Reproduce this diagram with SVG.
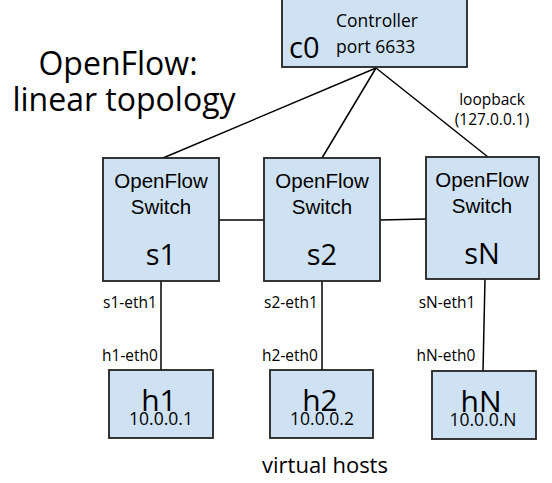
<svg xmlns="http://www.w3.org/2000/svg" width="552" height="483" viewBox="0 0 552 483">
<style>
.box{fill:#cfe2f3;stroke:#222;stroke-width:1.8}
.ln{stroke:#000;stroke-width:1.5;fill:none}
.cal{font-family:"Open Sans","Noto Sans",sans-serif;fill:#000}
.ar{font-family:"Liberation Sans",Arial,sans-serif;fill:#000}
.sm{font-size:15.5px}
.big{font-size:30px}
.ip{font-size:17.5px}
</style>
<rect width="552" height="483" fill="#fff"/>
<g id="title">
<text class="cal" x="118" y="75" font-size="32" text-anchor="middle">OpenFlow:</text>
<text class="cal" x="124" y="111" font-size="32" text-anchor="middle">linear topology</text>
</g>
<g id="connectors">
<line class="ln" x1="376" y1="68" x2="163" y2="158"/>
<line class="ln" x1="376" y1="68" x2="322" y2="158"/>
<line class="ln" x1="376" y1="68" x2="488" y2="157"/>
<line class="ln" x1="219" y1="220" x2="264" y2="220"/>
<line class="ln" x1="380" y1="220" x2="426" y2="219"/>
<line class="ln" x1="161" y1="281" x2="161" y2="370"/>
<line class="ln" x1="322" y1="281" x2="322" y2="370"/>
<line class="ln" x1="485" y1="279" x2="483" y2="371"/>
</g>
<g id="c0">
<rect class="box" x="282" y="-1" width="185" height="68"/>
<text class="cal" x="289" y="58" font-size="29">c0</text>
<text class="cal" x="336" y="27" font-size="17.5">Controller</text>
<text class="cal" x="336" y="53" font-size="17.5">port 6633</text>
</g>
<g id="loopback">
<text class="cal sm" x="492" y="105" text-anchor="middle">loopback</text>
<text class="cal sm" x="492" y="125" text-anchor="middle">(127.0.0.1)</text>
</g>
<g id="s1">
<rect class="box" x="103" y="158" width="116" height="123"/>
<text class="ar" x="161" y="188" font-size="20.5" text-anchor="middle">OpenFlow</text>
<text class="ar" x="161" y="214" font-size="20.5" text-anchor="middle">Switch</text>
<text class="cal" x="161" y="265" font-size="29" text-anchor="middle">s1</text>
</g>
<g id="s2">
<rect class="box" x="264" y="158" width="116" height="123"/>
<text class="ar" x="322" y="188" font-size="20.5" text-anchor="middle">OpenFlow</text>
<text class="ar" x="322" y="214" font-size="20.5" text-anchor="middle">Switch</text>
<text class="cal" x="322" y="265" font-size="29" text-anchor="middle">s2</text>
</g>
<g id="sN">
<rect class="box" x="426" y="157" width="113" height="122"/>
<text class="ar" x="482" y="187" font-size="20.5" text-anchor="middle">OpenFlow</text>
<text class="ar" x="482" y="213" font-size="20.5" text-anchor="middle">Switch</text>
<text class="cal" x="482" y="264" font-size="29" text-anchor="middle">sN</text>
</g>
<g id="portlabels">
<text class="cal sm" x="130" y="308" text-anchor="middle">s1-eth1</text>
<text class="cal sm" x="130" y="361" text-anchor="middle">h1-eth0</text>
<text class="cal sm" x="291" y="308" text-anchor="middle">s2-eth1</text>
<text class="cal sm" x="290" y="361" text-anchor="middle">h2-eth0</text>
<text class="cal sm" x="447" y="308" text-anchor="middle">sN-eth1</text>
<text class="cal sm" x="446" y="361" text-anchor="middle">hN-eth0</text>
</g>
<g id="h1">
<rect class="box" x="109" y="370" width="104" height="68"/>
<text class="cal big" x="159" y="411" text-anchor="middle">h1</text>
<text class="cal ip" x="161" y="425" text-anchor="middle">10.0.0.1</text>
</g>
<g id="h2">
<rect class="box" x="270" y="370" width="103" height="68"/>
<text class="cal big" x="320" y="411" text-anchor="middle">h2</text>
<text class="cal ip" x="322" y="425" text-anchor="middle">10.0.0.2</text>
</g>
<g id="hN">
<rect class="box" x="432" y="371" width="104" height="68"/>
<text class="cal big" x="481" y="412" text-anchor="middle">hN</text>
<text class="cal ip" x="483" y="426" text-anchor="middle">10.0.0.N</text>
</g>
<g id="virtualhosts">
<text class="cal" x="325" y="473" font-size="22" text-anchor="middle">virtual hosts</text>
</g>
</svg>
